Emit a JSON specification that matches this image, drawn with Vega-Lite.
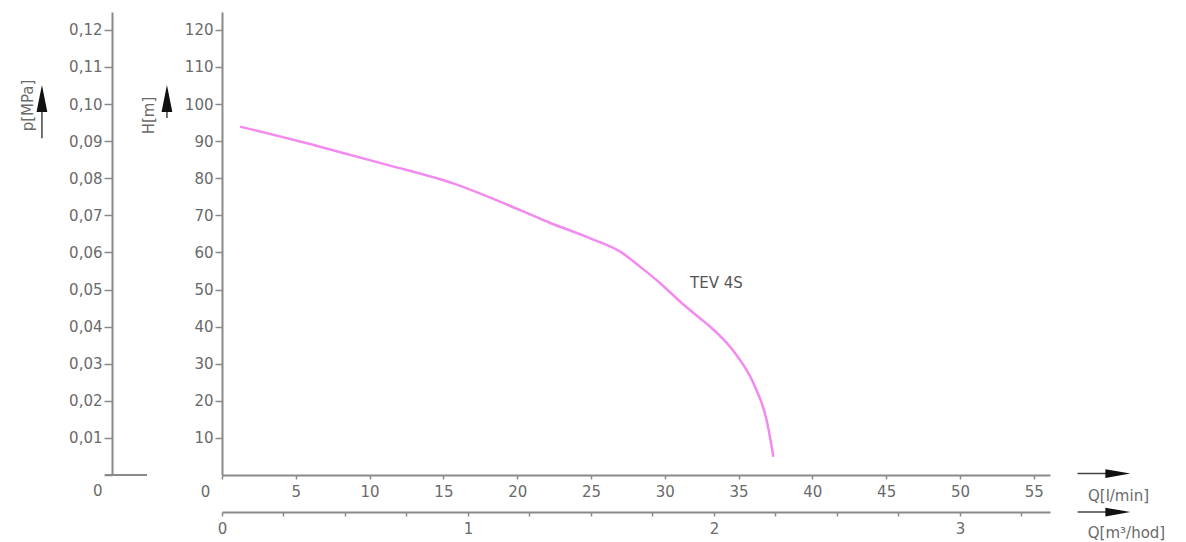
{
  "$schema": "https://vega.github.io/schema/vega-lite/v6.json",
  "autosize": "none",
  "width": 828,
  "height": 463,
  "padding": {"left": 222, "top": 12, "right": 136, "bottom": 67},
  "background": "white",
  "config": {
    "view": {"stroke": null},
    "axis": {
      "grid": false,
      "domainColor": "#8a8a8a",
      "domainWidth": 2,
      "tickColor": "#8a8a8a",
      "tickWidth": 1.5,
      "labelColor": "#6a6a6a",
      "labelFont": "DejaVu Sans",
      "labelFontSize": 15,
      "labelFontWeight": "normal",
      "titleColor": "#6a6a6a",
      "titleFont": "DejaVu Sans",
      "titleFontSize": 15,
      "titleFontWeight": "normal",
      "labelOverlap": false,
      "labelFlush": false,
      "labelBound": false
    }
  },
  "datasets": {
    "curve": [
      {"Q": 1.22, "H": 93.9},
      {"Q": 6.64, "H": 88.5},
      {"Q": 11.2, "H": 83.6},
      {"Q": 15.66, "H": 78.6},
      {"Q": 20.2, "H": 71.4},
      {"Q": 22.2, "H": 68.0},
      {"Q": 24.95, "H": 63.8},
      {"Q": 26.98, "H": 60.2},
      {"Q": 28.34, "H": 56.1},
      {"Q": 29.69, "H": 51.7},
      {"Q": 31.05, "H": 46.7},
      {"Q": 32.4, "H": 42.2},
      {"Q": 33.1, "H": 39.9},
      {"Q": 34.6, "H": 33.7},
      {"Q": 36.0, "H": 24.8},
      {"Q": 36.9, "H": 14.8},
      {"Q": 37.36, "H": 4.9}
    ],
    "one": [{}]
  },
  "layer": [
    {
      "layer": [
        {
          "data": {"name": "curve"},
          "mark": {"type": "line", "color": "#f38af0", "strokeWidth": 2.5, "interpolate": "monotone"},
          "encoding": {
            "x": {
              "field": "Q", "type": "quantitative",
              "scale": {"domain": [0, 56.1], "nice": false, "zero": false},
              "axis": {
                "orient": "bottom",
                "values": [0, 2.5, 5, 7.5, 10, 12.5, 15, 17.5, 20, 22.5, 25, 27.5, 30, 32.5, 35, 37.5, 40, 42.5, 45, 47.5, 50, 52.5, 55],
                "labelExpr": "datum.value % 5 === 0 ? format(datum.value, 'd') : ''",
                "labelOffset": {"condition": {"test": "datum.value === 0", "value": -17}, "value": 0},
                "tickSize": 4,
                "labelPadding": 5,
                "title": "Q[l/min]",
                "titleX": 896,
                "titleY": 20,
                "titleAlign": "center",
                "titleBaseline": "middle",
                "titleAngle": 0
              }
            },
            "y": {
              "field": "H", "type": "quantitative",
              "scale": {"domain": [0, 124.8], "nice": false, "zero": false},
              "axis": {
                "orient": "left",
                "values": [10, 20, 30, 40, 50, 60, 70, 80, 90, 100, 110, 120],
                "tickSize": 7,
                "labelPadding": 2,
                "title": "H[m]",
                "titleX": -74,
                "titleY": 103,
                "titleAngle": -90,
                "titleAlign": "center",
                "titleBaseline": "middle"
              }
            }
          }
        },
        {
          "data": {"name": "one"},
          "mark": {"type": "text", "text": "TEV 4S", "font": "DejaVu Sans", "fontSize": 15, "color": "#555555", "align": "center", "baseline": "middle"},
          "encoding": {"x": {"datum": 33.5}, "y": {"datum": 51.7}}
        },
        {
          "data": {"name": "one"},
          "mark": {"type": "rule", "color": "#8a8a8a", "strokeWidth": 2},
          "encoding": {"x": {"datum": -7.93}, "x2": {"datum": -5.08}, "y": {"datum": 0}}
        },
        {
          "data": {"name": "one"},
          "mark": {"type": "rule", "color": "#444444", "strokeWidth": 1.5},
          "encoding": {"x": {"datum": -12.2}, "y": {"datum": 90.8}, "y2": {"datum": 101.5}}
        },
        {
          "data": {"name": "one"},
          "mark": {"type": "point", "shape": "M -0.4 1 L 0 -1 L 0.4 1 Z", "size": 729, "filled": true, "color": "#111111", "opacity": 1},
          "encoding": {"x": {"datum": -12.2}, "y": {"datum": 101.5}}
        },
        {
          "data": {"name": "one"},
          "mark": {"type": "rule", "color": "#444444", "strokeWidth": 1.5},
          "encoding": {"x": {"datum": -3.73}, "y": {"datum": 96.2}, "y2": {"datum": 101.5}}
        },
        {
          "data": {"name": "one"},
          "mark": {"type": "point", "shape": "M -0.4 1 L 0 -1 L 0.4 1 Z", "size": 729, "filled": true, "color": "#111111", "opacity": 1},
          "encoding": {"x": {"datum": -3.73}, "y": {"datum": 101.5}}
        },
        {
          "data": {"name": "one"},
          "mark": {"type": "rule", "color": "#444444", "strokeWidth": 1.5},
          "encoding": {"x": {"datum": 57.97}, "x2": {"datum": 60.7}, "y": {"datum": 0.4}}
        },
        {
          "data": {"name": "one"},
          "mark": {"type": "point", "shape": "M -1 -0.35 L 1 0 L -1 0.35 Z", "size": 625, "filled": true, "color": "#111111", "opacity": 1},
          "encoding": {"x": {"datum": 60.7}, "y": {"datum": 0.4}}
        },
        {
          "data": {"name": "one"},
          "mark": {"type": "rule", "color": "#444444", "strokeWidth": 1.5},
          "encoding": {"x": {"datum": 57.97}, "x2": {"datum": 60.7}, "y": {"datum": -10}}
        },
        {
          "data": {"name": "one"},
          "mark": {"type": "point", "shape": "M -1 -0.35 L 1 0 L -1 0.35 Z", "size": 625, "filled": true, "color": "#111111", "opacity": 1},
          "encoding": {"x": {"datum": 60.7}, "y": {"datum": -10}}
        }
      ]
    },
    {
      "data": {"name": "one"},
      "mark": {"type": "rule", "opacity": 0},
      "encoding": {
        "x": {
          "datum": 0, "type": "quantitative",
          "scale": {"domain": [0, 3.366], "nice": false, "zero": false},
          "axis": {
            "orient": "bottom",
            "offset": 37,
            "values": [0, 0.25, 0.5, 0.75, 1, 1.25, 1.5, 1.75, 2, 2.25, 2.5, 2.75, 3, 3.25],
            "labelExpr": "datum.value % 1 === 0 ? format(datum.value, 'd') : ''",
            "tickSize": 4,
            "labelPadding": 5,
            "title": "Q[m³/hod]",
            "titleX": 904,
            "titleY": 20,
            "titleAlign": "center",
            "titleBaseline": "middle",
            "titleAngle": 0
          }
        }
      }
    },
    {
      "data": {"name": "one"},
      "mark": {"type": "rule", "opacity": 0},
      "encoding": {
        "y": {
          "datum": 0, "type": "quantitative",
          "scale": {"domain": [0, 0.1248], "nice": false, "zero": false},
          "axis": {
            "orient": "left",
            "offset": 110,
            "values": [0, 0.01, 0.02, 0.03, 0.04, 0.05, 0.06, 0.07, 0.08, 0.09, 0.1, 0.11, 0.12],
            "labelExpr": "datum.value === 0 ? '0' : replace(format(datum.value, '.2f'), '.', ',')",
            "labelOffset": {"condition": {"test": "datum.value === 0", "value": 15}, "value": 0},
            "tickSize": 8,
            "labelPadding": 2,
            "title": "p[MPa]",
            "titleX": -85,
            "titleY": 93,
            "titleAngle": -90,
            "titleAlign": "center",
            "titleBaseline": "middle"
          }
        }
      }
    }
  ],
  "resolve": {
    "scale": {"x": "independent", "y": "independent"},
    "axis": {"x": "independent", "y": "independent"}
  }
}
